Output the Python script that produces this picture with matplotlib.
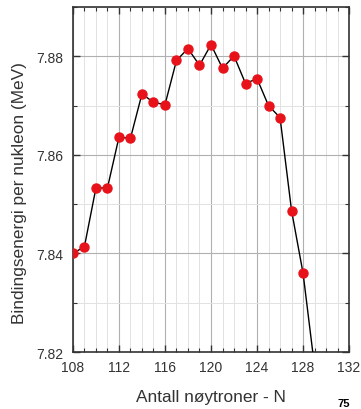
import matplotlib
matplotlib.use("Agg")
import matplotlib.pyplot as plt
from matplotlib.ticker import MultipleLocator

plt.rcParams['font.family'] = ['Liberation Sans', 'DejaVu Sans']

# neutron number and binding energy per nucleon (MeV)
neutrons = [108, 109, 110, 111, 112, 113, 114, 115, 116, 117, 118, 119,
            120, 121, 122, 123, 124, 125, 126, 127, 128, 129]
energy = [7.8400, 7.8414, 7.8533, 7.8533, 7.8636, 7.8634, 7.8724, 7.8707,
          7.8702, 7.8792, 7.8816, 7.8782, 7.8824, 7.8776, 7.8801, 7.8745,
          7.8755, 7.8700, 7.8676, 7.8487, 7.8360, 7.8170]

x_ticks = [108, 112, 116, 120, 124, 128, 132]
y_ticks = [7.82, 7.84, 7.86, 7.88]


def make_plot(file):
    fig = plt.figure(figsize=(3.61, 4.10), dpi=100)
    ax = fig.add_axes([0.202, 0.139, 0.765, 0.841])

    ax.plot(neutrons, energy, color='black', lw=1.0, marker='o', ms=6.5,
            mfc='#e8121a', mec='#e8121a', clip_on=True, zorder=3)

    ax.set_xlim(108, 132)
    ax.set_ylim(7.82, 7.89)
    ax.set_xticks(x_ticks)
    ax.set_yticks(y_ticks)
    ax.set_yticklabels([f"{v:.2f}" for v in y_ticks])
    ax.xaxis.set_minor_locator(MultipleLocator(1))
    ax.yaxis.set_minor_locator(MultipleLocator(0.01))

    ax.grid(which='major', color='#b0b0b0', lw=0.8)
    ax.grid(which='minor', color='#e2e2e2', lw=0.7)
    ax.set_axisbelow(True)

    ax.tick_params(which='both', direction='in', top=True, right=True,
                   labelsize=10, color='#333333', labelcolor='#333333')
    ax.tick_params(which='major', length=5, width=1)
    ax.tick_params(which='minor', length=3, width=0.8)
    ax.tick_params(axis='x', which='major', pad=6)
    ax.tick_params(axis='y', which='major', pad=7)
    for s in ax.spines.values():
        s.set_linewidth(1.2)
        s.set_color('#333333')

    ax.set_xlabel('Antall nøytroner - N', fontsize=12.4, color='#333333')
    ax.set_ylabel('Bindingsenergi per nukleon (MeV)', fontsize=12.4,
                  color='#333333')
    ax.xaxis.set_label_coords(0.5, -0.108)
    ax.yaxis.set_label_coords(-0.165, 0.465)

    fig.text(0.934, 0.007, '75', fontsize=8, fontweight='bold')
    fig.savefig(file, dpi=100)


make_plot("out.png")
